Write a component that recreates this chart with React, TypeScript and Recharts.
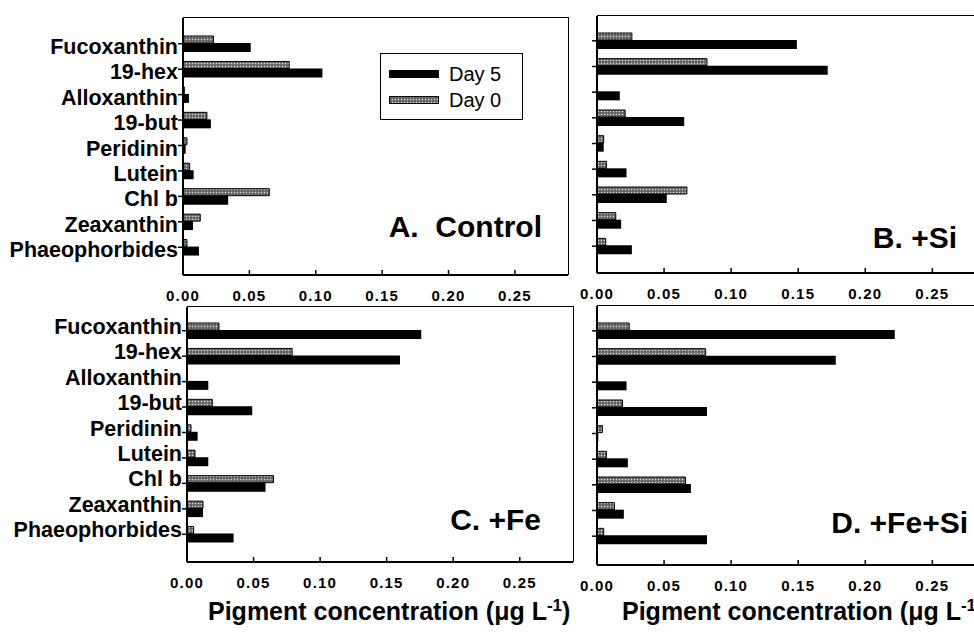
import React from 'react';
import { BarChart, Bar, XAxis, YAxis } from 'recharts';

const FONT = '"Liberation Sans", Arial, Helvetica, sans-serif';

// pigments, top to bottom
const pigments = [
  'Fucoxanthin',
  '19-hex',
  'Alloxanthin',
  '19-but',
  'Peridinin',
  'Lutein',
  'Chl b',
  'Zeaxanthin',
  'Phaeophorbides',
];

const xTicks = [0, 0.05, 0.1, 0.15, 0.2, 0.25];
const X_MAX = 0.29;

// µg/L
const controlDay0 = [0.023, 0.08, 0.001, 0.018, 0.003, 0.005, 0.065, 0.013, 0.003];
const controlDay5 = [0.051, 0.105, 0.0045, 0.021, 0.002, 0.008, 0.034, 0.0075, 0.012];
const siDay0 = [0.026, 0.082, 0, 0.021, 0.005, 0.007, 0.067, 0.014, 0.0065];
const siDay5 = [0.149, 0.172, 0.017, 0.065, 0.005, 0.022, 0.052, 0.018, 0.026];
const feDay0 = [0.024, 0.079, 0, 0.019, 0.003, 0.006, 0.065, 0.012, 0.005];
const feDay5 = [0.176, 0.16, 0.016, 0.049, 0.008, 0.016, 0.059, 0.012, 0.035];
const feSiDay0 = [0.024, 0.081, 0, 0.019, 0.004, 0.007, 0.066, 0.013, 0.005];
const feSiDay5 = [0.222, 0.178, 0.022, 0.082, 0.001, 0.023, 0.07, 0.02, 0.082];

const X_AXIS_H = 35;
const RIGHT_M = 6;

function rows(d0: number[], d5: number[]) {
  return pigments.map((name, i) => ({ name, day0: d0[i], day5: d5[i] }));
}

function XTick({ x, y, payload }: any) {
  return (
    <g>
      <line x1={x} y1={y} x2={x} y2={y - 5} stroke="#000" strokeWidth={1.5} />
      <text
        x={x}
        y={y + 20}
        textAnchor="middle"
        dominantBaseline="central"
        fontSize={15}
        fontWeight="bold"
        fontFamily={FONT}
        letterSpacing={1.2}
        fill="#000"
      >
        {Number(payload.value).toFixed(2)}
      </text>
    </g>
  );
}

function YTick({ x, y, payload, showLabel, labelDy }: any) {
  return (
    <g>
      <line x1={x - 5} y1={y} x2={x} y2={y} stroke="#000" strokeWidth={1.5} />
      {showLabel && (
        <text
          x={x - 5}
          y={y + labelDy}
          textAnchor="end"
          dominantBaseline="central"
          fontSize={21.5}
          fontWeight="bold"
          fontFamily={FONT}
          fill="#000"
        >
          {payload.value}
        </text>
      )}
    </g>
  );
}

interface PanelProps {
  id: string;
  day0: number[];
  day5: number[];
  left: number;
  top: number;
  width: number;
  height: number;
  yWidth: number;
  marginTop: number;
  padTop: number;
  padBottom: number;
  showLabels: boolean;
  labelDy: number;
}

function Panel(p: PanelProps) {
  const data = rows(p.day0, p.day5);
  return (
    <div style={{ position: 'absolute', left: p.left, top: p.top }}>
      <BarChart
        width={p.width}
        height={p.height}
        data={data}
        layout="vertical"
        margin={{ top: p.marginTop, right: RIGHT_M, bottom: 0, left: 0 }}
        barGap={0}
      >
        <defs>
          <pattern id={`dots-${p.id}`} width="3" height="3" patternUnits="userSpaceOnUse">
            <rect width="3" height="3" fill="#7a7a7a" />
            <rect width="1" height="1" fill="#dcdcdc" />
            <rect x="1.5" y="1.5" width="1" height="1" fill="#222" />
          </pattern>
        </defs>
        <XAxis
          type="number"
          domain={[0, X_MAX]}
          ticks={xTicks}
          height={X_AXIS_H}
          tickSize={0}
          tickMargin={0}
          tickLine={false}
          axisLine={{ stroke: '#000', strokeWidth: 2 }}
          tick={(props: any) => <XTick {...props} />}
          interval={0}
        />
        <YAxis
          type="category"
          dataKey="name"
          width={p.yWidth}
          padding={{ top: p.padTop, bottom: p.padBottom }}
          tickSize={0}
          tickMargin={0}
          tickLine={false}
          interval={0}
          axisLine={{ stroke: '#000', strokeWidth: 2 }}
          tick={(props: any) => (
            <YTick {...props} showLabel={p.showLabels} labelDy={p.labelDy} />
          )}
        />
        <Bar
          dataKey="day0"
          barSize={7}
          fill={`url(#dots-${p.id})`}
          stroke="#000"
          strokeWidth={1}
          isAnimationActive={false}
        />
        <Bar dataKey="day5" barSize={9} fill="#000" isAnimationActive={false} />
      </BarChart>
      {/* top and right frame of the plot box */}
      <div
        style={{
          position: 'absolute',
          left: p.yWidth,
          top: p.marginTop - 1,
          width: p.width - RIGHT_M - p.yWidth + 1,
          height: p.height - p.marginTop - X_AXIS_H + 1,
          borderTop: '1.5px solid #000',
          borderRight: '1.5px solid #000',
          boxSizing: 'border-box',
          pointerEvents: 'none',
        }}
      />
    </div>
  );
}

const panelLabel: React.CSSProperties = {
  position: 'absolute',
  fontFamily: FONT,
  fontWeight: 'bold',
  fontSize: 30,
  lineHeight: '30px',
  whiteSpace: 'pre',
  color: '#000',
};

const axisTitle: React.CSSProperties = {
  position: 'absolute',
  fontFamily: FONT,
  fontWeight: 'bold',
  fontSize: 25,
  lineHeight: '30px',
  whiteSpace: 'nowrap',
  color: '#000',
};

export default function App() {
  return (
    <div
      style={{
        position: 'fixed',
        left: 0,
        top: 0,
        width: 974,
        height: 636,
        overflow: 'hidden',
        background: '#fff',
      }}
    >
      <Panel id="a" day0={controlDay0} day5={controlDay5} left={0} top={0} width={574} height={310}
        yWidth={183} marginTop={18} padTop={13} padBottom={15} showLabels labelDy={3} />
      <Panel id="b" day0={siDay0} day5={siDay5} left={580} top={0} width={412} height={308}
        yWidth={17} marginTop={16} padTop={12} padBottom={14} showLabels={false} labelDy={0} />
      <Panel id="c" day0={feDay0} day5={feDay5} left={0} top={290} width={579} height={307}
        yWidth={187} marginTop={17} padTop={11} padBottom={15} showLabels labelDy={-4} />
      <Panel id="d" day0={feSiDay0} day5={feSiDay5} left={580} top={290} width={412} height={310}
        yWidth={17} marginTop={16} padTop={12} padBottom={16} showLabels={false} labelDy={0} />

      {/* legend in panel A */}
      <div
        style={{
          position: 'absolute',
          left: 380,
          top: 53,
          width: 141,
          height: 65,
          border: '1px solid #000',
          fontFamily: FONT,
          fontSize: 20,
        }}
      >
        {[
          { label: 'Day 5', key: 'day5' },
          { label: 'Day 0', key: 'day0' },
        ].map((e, i) => (
          <div
            key={e.key}
            style={{ position: 'absolute', left: 8, top: 9 + i * 26, height: 22, display: 'flex', alignItems: 'center' }}
          >
            <svg width={50} height={8} style={{ display: 'block' }}>
              <rect
                x={0.5}
                y={0.5}
                width={49}
                height={7}
                fill={e.key === 'day5' ? '#000' : 'url(#dots-a)'}
                stroke="#000"
              />
            </svg>
            <span style={{ marginLeft: 10, lineHeight: '22px' }}>{e.label}</span>
          </div>
        ))}
      </div>

      <div style={{ ...panelLabel, right: 974 - 542, top: 212 }}>A.  Control</div>
      <div style={{ ...panelLabel, right: 974 - 957, top: 223 }}>B. +Si</div>
      <div style={{ ...panelLabel, right: 974 - 541, top: 505 }}>C. +Fe</div>
      <div style={{ ...panelLabel, right: 974 - 968, top: 508 }}>D. +Fe+Si</div>

      <div style={{ ...axisTitle, left: 208, top: 596 }}>
        Pigment concentration (μg L<sup style={{ fontSize: 17, lineHeight: 0 }}>-1</sup>)
      </div>
      <div style={{ ...axisTitle, left: 622, top: 596 }}>
        Pigment concentration (μg L<sup style={{ fontSize: 17, lineHeight: 0 }}>-1</sup>)
      </div>
    </div>
  );
}
